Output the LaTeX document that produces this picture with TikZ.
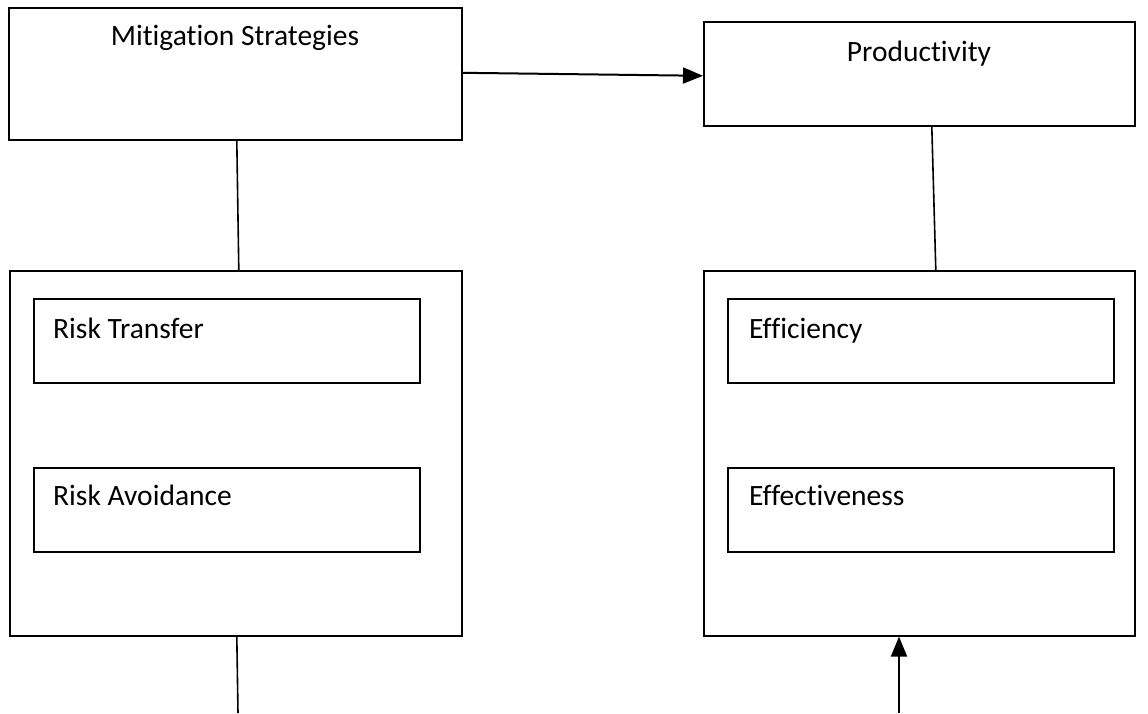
\documentclass[tikz,border=0pt]{standalone}
\usepackage{fontspec}
\setmainfont{Carlito}[Ligatures={NoCommon}]
\usetikzlibrary{arrows.meta,calc}
\begin{document}
\begin{tikzpicture}[x=1pt,y=-1pt,
  box/.style={draw=black,line width=1.6pt,inner sep=0pt,anchor=north west},
  lbl/.style={inner sep=0pt,anchor=base,font=\fontsize{29.5}{34}\selectfont},
  lbll/.style={inner sep=0pt,anchor=base west,font=\fontsize{29.5}{34}\selectfont},
  conn/.style={line width=1.6pt},
  arr/.style={line width=2pt,-{Triangle[length=20pt,width=16pt]}}]
\useasboundingbox (0,0) rectangle (1148,713);
% top boxes
\node[box,minimum width=453,minimum height=132] (ms) at (8,7) {};
\node[lbl] (mst) at (235,45) {Mitigation Strategies};
\node[box,minimum width=431,minimum height=104] (pr) at (703,21) {};
\node[lbl] (prt) at (919,61) {Productivity};
% big boxes
\node[box,minimum width=452,minimum height=365] (lb) at (9,270) {};
\node[box,minimum width=431,minimum height=365] (rb) at (703,270) {};
% inner boxes
\node[box,minimum width=386,minimum height=84] (rt) at (33,298) {};
\node[lbll] (rtt) at (53,338) {Risk Transfer};
\node[box,minimum width=386,minimum height=84] (ra) at (33,467) {};
\node[lbll] (rat) at (53,505) {Risk Avoidance};
\node[box,minimum width=386,minimum height=84] (ef) at (727,298) {};
\node[lbll] (eft) at (749,338) {Efficiency};
\node[box,minimum width=386,minimum height=84] (ev) at (727,467) {};
\node[lbll] (evt) at (749,505) {Effectiveness};
% free ends
\coordinate (bl) at (238,713);
\coordinate (br) at (899,713);
% connectors
\draw[arr] ([yshift=1]ms.east) -- ([yshift=-2]pr.west);
\draw[conn] ([xshift=1.5]ms.south) -- ([xshift=3]lb.north);
\draw[conn] ([xshift=12.5]pr.south) -- ([xshift=16.5]rb.north);
\draw[conn] ([xshift=1]lb.south) -- (bl);
\draw[arr] (br) -- (br |- rb.south);
\end{tikzpicture}
\end{document}
